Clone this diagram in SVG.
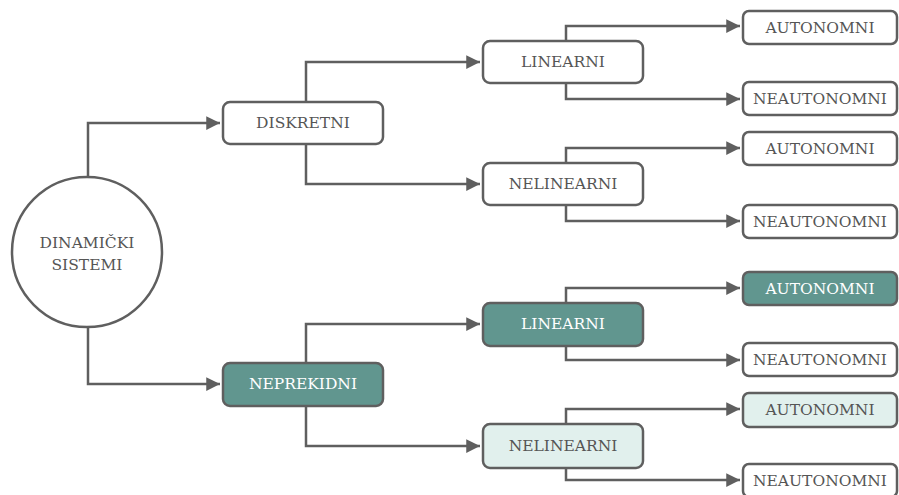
<svg xmlns="http://www.w3.org/2000/svg" width="899" height="495" viewBox="0 0 899 495">
<defs>
<marker id="arr" viewBox="0 0 10 10" refX="10" refY="5" markerWidth="5.5" markerHeight="5.5" orient="auto" markerUnits="strokeWidth">
<path d="M0,0 L10,5 L0,10 z" fill="#5f5f5f"/>
</marker>
<style>
.box{fill:#ffffff;stroke:#5f5f5f;stroke-width:2.5}
.teal{fill:#61968f;stroke:#5f5f5f;stroke-width:2.5}
.light{fill:#e1f0ed;stroke:#5f5f5f;stroke-width:2.5}
.t{font-family:'DejaVu Serif','Liberation Serif',serif;font-size:15.5px;fill:#555555;text-anchor:middle;dominant-baseline:central}
.tw{fill:#ffffff}
.c{fill:none;stroke:#5f5f5f;stroke-width:2.5;marker-end:url(#arr)}
</style>
</defs>
<rect width="899" height="495" fill="#ffffff"/>
<g id="connectors">
<path class="c" d="M88,177 V123 H220"/>
<path class="c" d="M88,327 V384 H220"/>
<path class="c" d="M306,102 V62 H480"/>
<path class="c" d="M306,144 V184 H480"/>
<path class="c" d="M306,363 V324 H480"/>
<path class="c" d="M306,406 V446 H480"/>
<path class="c" d="M566,41 V26 H740"/>
<path class="c" d="M566,83 V99 H740"/>
<path class="c" d="M566,163 V148 H740"/>
<path class="c" d="M566,205 V221 H740"/>
<path class="c" d="M566,303 V288 H740"/>
<path class="c" d="M566,346 V360 H740"/>
<path class="c" d="M566,424 V409 H740"/>
<path class="c" d="M566,468 V480 H740"/>
</g>
<g id="root">
<circle cx="87" cy="252" r="75" fill="#ffffff" stroke="#5f5f5f" stroke-width="2.5"/>
<text class="t" x="87" y="243">DINAMIČKI</text>
<text class="t" x="87" y="265">SISTEMI</text>
</g>
<g id="diskretni"><rect class="box" x="223" y="102" width="160" height="42" rx="7"/><text class="t" x="303" y="123">DISKRETNI</text></g>
<g id="neprekidni"><rect class="teal" x="223" y="363" width="160" height="43" rx="7"/><text class="t tw" x="303" y="384">NEPREKIDNI</text></g>
<g id="d-linearni"><rect class="box" x="483" y="41" width="160" height="42" rx="7"/><text class="t" x="563" y="62">LINEARNI</text></g>
<g id="d-nelinearni"><rect class="box" x="483" y="163" width="160" height="42" rx="7"/><text class="t" x="563" y="184">NELINEARNI</text></g>
<g id="n-linearni"><rect class="teal" x="483" y="303" width="160" height="43" rx="7"/><text class="t tw" x="563" y="324">LINEARNI</text></g>
<g id="n-nelinearni"><rect class="light" x="483" y="424" width="160" height="44" rx="7"/><text class="t" x="563" y="446">NELINEARNI</text></g>
<g id="dl-auto"><rect class="box" x="743" y="11" width="154" height="33" rx="6"/><text class="t" x="820" y="27.5">AUTONOMNI</text></g>
<g id="dl-neauto"><rect class="box" x="743" y="82" width="154" height="33" rx="6"/><text class="t" x="820" y="98.5">NEAUTONOMNI</text></g>
<g id="dn-auto"><rect class="box" x="743" y="132" width="154" height="33" rx="6"/><text class="t" x="820" y="148.5">AUTONOMNI</text></g>
<g id="dn-neauto"><rect class="box" x="743" y="205" width="154" height="33" rx="6"/><text class="t" x="820" y="221.5">NEAUTONOMNI</text></g>
<g id="nl-auto"><rect class="teal" x="743" y="272" width="154" height="33" rx="6"/><text class="t tw" x="820" y="288.5">AUTONOMNI</text></g>
<g id="nl-neauto"><rect class="box" x="743" y="343" width="154" height="33" rx="6"/><text class="t" x="820" y="359.5">NEAUTONOMNI</text></g>
<g id="nn-auto"><rect class="light" x="743" y="393" width="154" height="34" rx="6"/><text class="t" x="820" y="410">AUTONOMNI</text></g>
<g id="nn-neauto"><rect class="box" x="743" y="464" width="154" height="33" rx="6"/><text class="t" x="820" y="480.5">NEAUTONOMNI</text></g>
</svg>
